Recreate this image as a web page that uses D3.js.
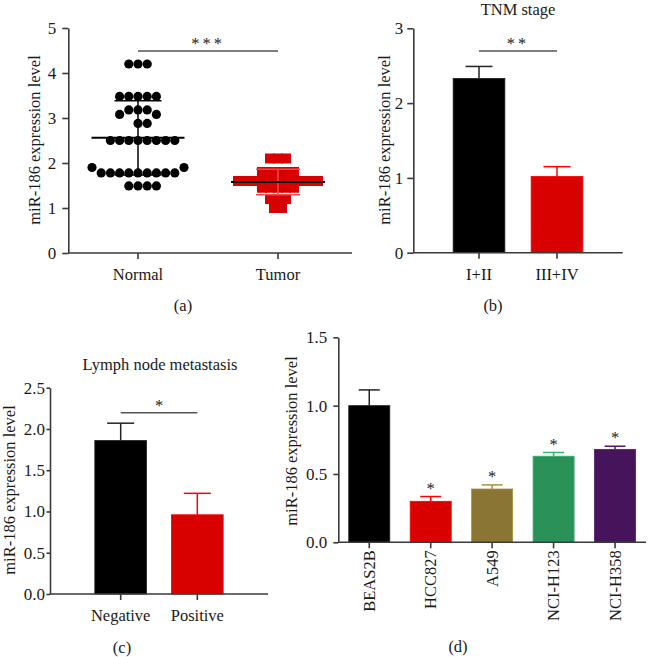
<!DOCTYPE html>
<html>
<head>
<meta charset="utf-8">
<script src="https://cdn.jsdelivr.net/npm/d3@7"></script>
<style>
  body { margin: 0; background: #fff; }
  svg text { font-family: "Liberation Serif", "Times New Roman", serif; fill: #1a1a1a; }
</style>
</head>
<body>
<svg id="chart" width="648" height="657"></svg>
<script>
// (a) Normal vs Tumor, individual samples
var groupsA = ['Normal', 'Tumor'];
var normalValues = [4.2, 4.2, 4.2,
                    3.48, 3.48, 3.48, 3.48, 3.48,
                    3.18, 3.18, 3.18, 3.08, 3.08,
                    2.88, 2.88,
                    2.5, 2.5, 2.5, 2.5, 2.5, 2.5, 2.5, 2.5,
                    1.78, 1.78, 1.78, 1.78, 1.78, 1.78, 1.78, 1.78, 1.78,
                    1.9, 1.9,
                    1.49, 1.49, 1.49, 1.49];
var tumorValues = [2.1, 2.1, 2.1,
                   1.8, 1.8, 1.8, 1.8, 1.8,
                   1.6, 1.6, 1.6, 1.6, 1.6, 1.6, 1.6, 1.6, 1.6, 1.6, 1.6,
                   1.45, 1.45, 1.45, 1.45, 1.45,
                   1.2, 1.2, 1.2,
                   1.0, 1.0];
var ticksA = [0, 1, 2, 3, 4, 5];

// (b) TNM stage
var stageCats = ['I+II', 'III+IV'];
var stageMeans = [2.33, 1.02];
var stageErr = [0.16, 0.13];
var ticksB = [0, 1, 2, 3];

// (c) Lymph node metastasis
var lymphCats = ['Negative', 'Positive'];
var lymphMeans = [1.86, 0.96];
var lymphErr = [0.21, 0.26];
var ticksC = [0, 0.5, 1.0, 1.5, 2.0, 2.5];

// (d) cell lines
var cellLines = ['BEAS2B', 'HCC827', 'A549', 'NCI-H123', 'NCI-H358'];
var cellMeans = [1.0, 0.30, 0.39, 0.63, 0.68];
var cellErr = [0.115, 0.035, 0.03, 0.027, 0.023];
var cellSig = ['', '*', '*', '*', '*'];
var ticksD = [0, 0.5, 1.0, 1.5];

var twoColors = ['#000000', '#d90000'];
var cellColors = ['#000000', '#d90000', '#8a7535', '#2a9159', '#46145a'];

var svg = d3.select('#chart');
var AXIS = '#3a3a3a';
var FONT = 16.5;
var TICKFONT = 17;

var draw_y_axis = function(svg, y, x0, ticks, fmt, tick, pad) {
    var g = svg.append('g')
        .attr('transform', 'translate(' + x0 + ',0)')
        .call(d3.axisLeft(y).tickValues(ticks).tickFormat(fmt)
            .tickSize(tick).tickSizeOuter(0).tickPadding(pad));
    g.attr('font-family', null).attr('font-size', TICKFONT);
    g.selectAll('path, line').attr('stroke', AXIS).attr('stroke-width', 1.6);
    g.selectAll('text').attr('fill', '#1a1a1a');
}

var draw_x_axis = function(svg, x, cats, x0, x1, y0, rotate) {
    svg.append('line')
        .attr('x1', x0).attr('x2', x1).attr('y1', y0).attr('y2', y0)
        .attr('stroke', AXIS).attr('stroke-width', 1.6);
    var cx = function(d) { return x(d) + (x.bandwidth ? x.bandwidth() / 2 : 0); };
    svg.selectAll(null).data(cats).enter().append('line')
        .attr('x1', cx).attr('x2', cx)
        .attr('y1', y0).attr('y2', y0 + 6)
        .attr('stroke', AXIS).attr('stroke-width', 1.6);
    var t = svg.selectAll(null).data(cats).enter().append('text')
        .attr('font-size', FONT)
        .text(function(d) { return d; });
    if (rotate) {
        t.attr('text-anchor', 'end')
         .attr('transform', function(d) {
            return 'translate(' + (cx(d) + 5.5) + ',' + (y0 + 8) + ') rotate(-90)';
         });
    } else {
        t.attr('text-anchor', 'middle')
         .attr('x', cx).attr('y', y0 + 27);
    }
}

var y_label = function(svg, x, y) {
    svg.append('text')
        .attr('transform', 'translate(' + x + ',' + y + ') rotate(-90)')
        .attr('text-anchor', 'middle')
        .attr('font-size', FONT)
        .text('miR-186 expression level');
}

var sig_bar = function(svg, xa, xb, y, label) {
    svg.append('line')
        .attr('x1', xa).attr('x2', xb).attr('y1', y).attr('y2', y)
        .attr('stroke', '#555').attr('stroke-width', 1.5);
    svg.append('text')
        .attr('x', (xa + xb) / 2).attr('y', y - 2)
        .attr('text-anchor', 'middle')
        .attr('font-size', FONT)
        .attr('fill', '#444')
        .attr('letter-spacing', label.length > 1 ? 3 : 0)
        .text(label);
}

var panel_label = function(svg, x, y, s) {
    svg.append('text').attr('x', x).attr('y', y)
        .attr('text-anchor', 'middle').attr('font-size', FONT).text(s);
}

// simple beeswarm: nudge each point sideways until it does not overlap
var swarm = function(values, cx, y, step, minDist) {
    var placed = [];
    values.forEach(function(v) {
        var py = y(v);
        for (var k = 0; k < 40; k++) {
            var off = (k % 2 === 1 ? 1 : -1) * Math.ceil(k / 2) * step;
            var px = cx + off;
            var ok = placed.every(function(p) {
                var dx = p[0] - px, dy = p[1] - py;
                return Math.sqrt(dx * dx + dy * dy) >= minDist - 0.01;
            });
            if (ok) { placed.push([px, py]); break; }
        }
    });
    return placed;
}

// rows of squares: same value sits on one row, centred
var square_rows = function(values, cx, y, step) {
    var rows = d3.group(values, function(v) { return v; });
    var out = [];
    rows.forEach(function(arr, v) {
        var n = arr.length;
        arr.forEach(function(d, i) {
            out.push([cx + (i - (n - 1) / 2) * step, y(v)]);
        });
    });
    return out;
}

var mean_sd = function(svg, vals, cx, y, halfMean, halfCap, color, meanColor) {
    var m = d3.mean(vals), s = d3.deviation(vals);
    svg.append('line').attr('x1', cx).attr('x2', cx)
        .attr('y1', y(m + s)).attr('y2', y(m - s))
        .attr('stroke', color).attr('stroke-width', 1.5);
    [m + s, m - s].forEach(function(v) {
        svg.append('line').attr('x1', cx - halfCap).attr('x2', cx + halfCap)
            .attr('y1', y(v)).attr('y2', y(v))
            .attr('stroke', color).attr('stroke-width', 1.5);
    });
    svg.append('line').attr('x1', cx - halfMean).attr('x2', cx + halfMean)
        .attr('y1', y(m)).attr('y2', y(m))
        .attr('stroke', meanColor).attr('stroke-width', 2);
}

var draw_bars = function(svg, cats, means, errs, colors, x, y, cap) {
    var g = svg.append('g');
    cats.forEach(function(c, i) {
        var col = colors[i];
        var edge = i === 0 ? '#222' : d3.color(col).brighter(0.6).formatHex();
        var cx = x(c) + x.bandwidth() / 2;
        g.append('line').attr('x1', cx).attr('x2', cx)
            .attr('y1', y(means[i])).attr('y2', y(means[i] + errs[i]))
            .attr('stroke', edge).attr('stroke-width', 1.5);
        g.append('line').attr('x1', cx - cap).attr('x2', cx + cap)
            .attr('y1', y(means[i] + errs[i])).attr('y2', y(means[i] + errs[i]))
            .attr('stroke', edge).attr('stroke-width', 1.5);
        g.append('rect')
            .attr('x', x(c)).attr('width', x.bandwidth())
            .attr('y', y(means[i])).attr('height', y(0) - y(means[i]))
            .attr('fill', col)
            .attr('stroke', edge).attr('stroke-width', 0.8);
    });
}

// ---------- panel (a)
var xA = d3.scalePoint().domain(groupsA).range([68, 348]).padding(0.5);
var yA = d3.scaleLinear().domain([0, 5]).range([253, 28]);

var dots = swarm(normalValues, xA('Normal'), yA, 9.2, 9);
svg.append('g').selectAll('circle').data(dots).enter().append('circle')
    .attr('cx', function(d) { return d[0]; })
    .attr('cy', function(d) { return d[1]; })
    .attr('r', 4.6)
    .attr('fill', '#000');
mean_sd(svg, normalValues, xA('Normal'), yA, 46.5, 23.5, '#000', '#000');

var sq = square_rows(tumorValues, xA('Tumor'), yA, 8);
svg.append('g').selectAll('rect').data(sq).enter().append('rect')
    .attr('x', function(d) { return d[0] - 5; })
    .attr('y', function(d) { return d[1] - 5; })
    .attr('width', 10).attr('height', 10)
    .attr('fill', '#d90000');
mean_sd(svg, tumorValues, xA('Tumor'), yA, 47, 22, '#e05050', '#000');

draw_y_axis(svg, yA, 68.3, ticksA, d3.format('d'), 6, 6);
draw_x_axis(svg, xA, groupsA, 68.3, 352, 253, false);
y_label(svg, 39.5, 140);
sig_bar(svg, xA('Normal'), xA('Tumor'), 51, '***');
panel_label(svg, 183, 311, '(a)');

// ---------- panel (b)
var xB = d3.scaleBand().domain(stageCats).range([413.3, 622.7])
    .paddingInner(0.337).paddingOuter(0.511);
var yB = d3.scaleLinear().domain([0, 3]).range([252.7, 28.3]);
draw_bars(svg, stageCats, stageMeans, stageErr, twoColors, xB, yB, 13.5);
draw_y_axis(svg, yB, 413.3, ticksB, d3.format('d'), 6, 4);
draw_x_axis(svg, xB, stageCats, 413.3, 622.7, 252.7, false);
y_label(svg, 389.5, 140);
sig_bar(svg, xB('I+II') + xB.bandwidth() / 2, xB('III+IV') + xB.bandwidth() / 2, 51, '**');
panel_label(svg, 493, 311, '(b)');
svg.append('text').attr('x', 518).attr('y', 15)
    .attr('text-anchor', 'middle').attr('font-size', FONT).text('TNM stage');

// ---------- panel (c)
var xC = d3.scaleBand().domain(lymphCats).range([50, 268])
    .paddingInner(0.325).paddingOuter(0.585);
var yC = d3.scaleLinear().domain([0, 2.5]).range([594, 387.7]);
draw_bars(svg, lymphCats, lymphMeans, lymphErr, twoColors, xC, yC, 13.5);
draw_y_axis(svg, yC, 50, ticksC, d3.format('.1f'), 3.5, 1.5);
draw_x_axis(svg, xC, lymphCats, 50, 268, 594, false);
y_label(svg, 14.5, 490);
sig_bar(svg, xC('Negative') + xC.bandwidth() / 2, xC('Positive') + xC.bandwidth() / 2, 412.7, '*');
panel_label(svg, 122, 653, '(c)');
svg.append('text').attr('x', 160).attr('y', 370)
    .attr('text-anchor', 'middle').attr('font-size', FONT).text('Lymph node metastasis');

// ---------- panel (d)
var xD = d3.scaleBand().domain(cellLines).range([338.3, 646])
    .paddingInner(0.332).paddingOuter(0.17);
var yD = d3.scaleLinear().domain([0, 1.5]).range([542.3, 337.3]);
draw_bars(svg, cellLines, cellMeans, cellErr, cellColors, xD, yD, 10.5);
svg.append('g').selectAll('text').data(cellLines).enter().append('text')
    .attr('x', function(d) { return xD(d) + xD.bandwidth() / 2; })
    .attr('y', function(d, i) { return yD(cellMeans[i] + cellErr[i]) - 3; })
    .attr('text-anchor', 'middle')
    .attr('font-size', FONT)
    .attr('fill', '#444')
    .text(function(d, i) { return cellSig[i]; });
draw_y_axis(svg, yD, 338.3, ticksD, d3.format('.1f'), 5, 6);
draw_x_axis(svg, xD, cellLines, 338.3, 646, 542.3, true);
y_label(svg, 297, 441);
panel_label(svg, 458, 652, '(d)');
</script>
</body>
</html>
